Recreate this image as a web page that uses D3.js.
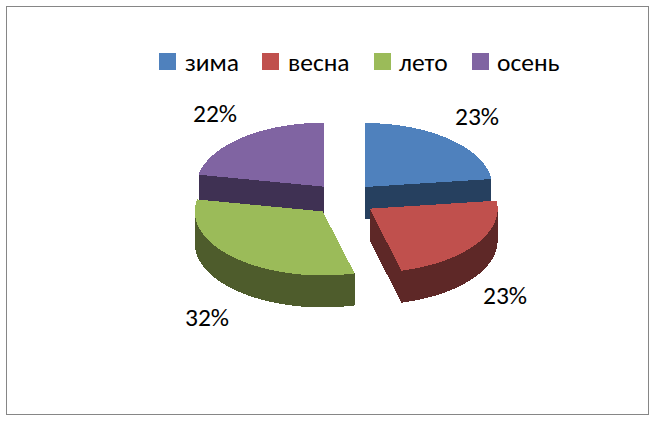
<!DOCTYPE html>
<html>
<head>
<meta charset="utf-8">
<script src="https://cdn.jsdelivr.net/npm/d3@7"></script>
<style>
html,body{margin:0;padding:0;background:#fff;}
svg{display:block;}
text{font-family:Carlito,Calibri,Lato,"Open Sans",sans-serif;fill:#000;}
</style>
</head>
<body>
<svg id="chart" width="655" height="421"></svg>
<script>
const categories = ["зима", "весна", "лето", "осень"];
const values = [23, 23, 32, 22];
const topColors = ["#4F81BD", "#C0504D", "#9BBB59", "#8064A2"];
const sideColors = ["#26405F", "#5E2827", "#4E5C2C", "#3F3153"];

// layout
const W = 655, H = 421;
const center = {x: 344, y: 199.4};
const radius = {x: 128, y: 64};
const explode = {x: 31, y: 16.5};
const depth = 32;
const legendSwatchX = [159, 262, 374, 472];
const legendTextX = [185, 288, 399, 497];
const labelCenters = [[477, 125], [505, 304], [207, 326], [215, 122]];

const svg = d3.select("#chart");
svg.append("rect").attr("x", 6.5).attr("y", 6.5).attr("width", 642).attr("height", 408)
  .attr("fill", "#fff").attr("stroke", "#868686").attr("stroke-width", 1);

const sx = d3.scaleLinear().domain([-1, 1]).range([-radius.x, radius.x]);
const sy = d3.scaleLinear().domain([-1, 1]).range([-radius.y, radius.y]);
const line = d3.line().x(d => d[0]).y(d => d[1]);

const slices = d3.pie().sort(null)(values).map((d, i) => {
  const mid = (d.startAngle + d.endAngle) / 2;
  return {
    i, a0: d.startAngle, a1: d.endAngle, mid,
    cx: center.x + Math.sin(mid) * explode.x,
    cy: center.y - Math.cos(mid) * explode.y
  };
});

function pt(s, a, dz) {
  return [s.cx + sx(Math.sin(a)), s.cy - sy(Math.cos(a)) + (dz || 0)];
}
function rim(s, a0, a1, dz) {
  const n = Math.max(2, Math.ceil((a1 - a0) * 60));
  return d3.range(n + 1).map(k => pt(s, a0 + (a1 - a0) * k / n, dz));
}

const g = svg.append("g").attr("shape-rendering", "crispEdges");
const order = slices.slice().sort((a, b) => Math.cos(b.mid) - Math.cos(a.mid));

order.forEach(s => {
  const side = sideColors[s.i];
  const apex = [s.cx, s.cy], apexLow = [s.cx, s.cy + depth];
  // radial cut faces
  [s.a0, s.a1].forEach((a, idx) => {
    const e = pt(s, a), eLow = pt(s, a, depth);
    const normalY = idx === 0 ? Math.sin(a) * -1 : Math.sin(a);
    // a cut face is visible when its outward normal points toward the viewer (down on screen)
    if (normalY > 0.01) {
      g.append("path").attr("d", line([apex, e, eLow, apexLow]) + "Z").attr("fill", side);
    }
  });
  // outer wall, front half only
  const w0 = Math.max(s.a0, Math.PI / 2), w1 = Math.min(s.a1, Math.PI * 1.5);
  if (w1 > w0) {
    const upper = rim(s, w0, w1, 0), lower = rim(s, w0, w1, depth).reverse();
    g.append("path").attr("d", line(upper.concat(lower)) + "Z").attr("fill", side);
  }
  // top surface
  g.append("path").attr("d", line([apex].concat(rim(s, s.a0, s.a1, 0))) + "Z").attr("fill", topColors[s.i]);
});

// legend
categories.forEach((c, i) => {
  svg.append("rect").attr("x", legendSwatchX[i]).attr("y", 53).attr("width", 17).attr("height", 17)
    .attr("fill", topColors[i]);
  svg.append("text").attr("x", legendTextX[i]).attr("y", 71).attr("font-size", 25.5).text(c);
});

// data labels
const fmt = d => d + "%";
values.forEach((v, i) => {
  svg.append("text").attr("x", labelCenters[i][0]).attr("y", labelCenters[i][1])
    .attr("text-anchor", "middle").attr("font-size", 25.5).text(fmt(v));
});
</script>
</body>
</html>
